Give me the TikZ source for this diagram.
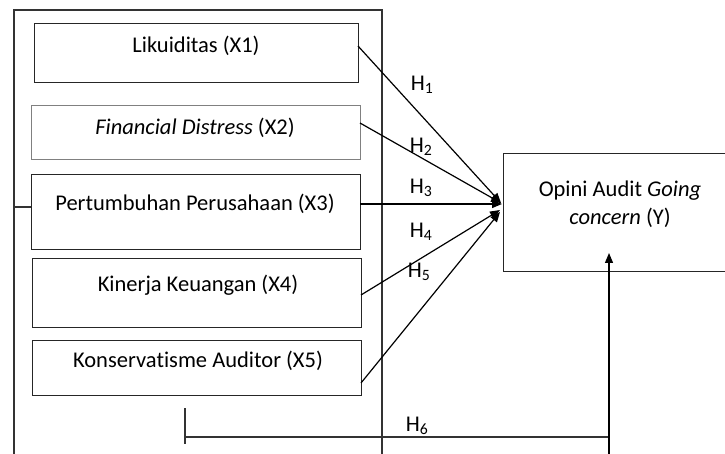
\documentclass[tikz,border=0pt]{standalone}
\usepackage{fontspec}
\setmainfont{Carlito}[Ligatures=NoCommon]
\usetikzlibrary{arrows.meta,calc}
\begin{document}
\begin{tikzpicture}[x=1pt,y=-1pt, line width=1.2pt,
  box/.style={draw=black!85, rectangle, inner sep=0pt, anchor=north west},
  lbl/.style={font=\fontsize{22.5}{28}\selectfont, inner sep=0pt},
  arr/.style={-{Triangle[length=10pt,width=8pt]}}]
\useasboundingbox (0,0) rectangle (725,454);
% outer frame
\coordinate (fbl) at (14,456);
\coordinate (ftl) at (14,10);
\coordinate (ftr) at (382,10);
\coordinate (fbr) at (382,456);
\draw[black!80] (fbl) -- (ftl) -- (ftr) -- (fbr);
% boxes
\node[box, minimum width=324pt, minimum height=59pt] (x1) at (34,23) {};
\node[box, draw=black!50, line width=1.4pt, minimum width=329pt, minimum height=54pt] (x2) at (31,105) {};
\node[box, minimum width=329pt, minimum height=75pt] (x3) at (31,174) {};
\node[box, minimum width=329pt, minimum height=69pt] (x4) at (32,258) {};
\node[box, minimum width=329pt, minimum height=55pt] (x5) at (32,340) {};
\node[box, minimum width=224pt, minimum height=118pt] (y) at (503,153) {};
% texts
\node[lbl] (t1) at (196,46) {Likuiditas (X1)};
\node[lbl] (t2) at (195,128) {\textit{Financial Distress} (X2)};
\node[lbl] (t3) at (195,204) {Pertumbuhan Perusahaan (X3)};
\node[lbl] (t4) at (198,285) {Kinerja Keuangan (X4)};
\node[lbl] (t5) at (198,361) {Konservatisme Auditor (X5)};
\node[lbl, align=center] (ty) at (620,204) {Opini Audit \textit{Going}\\\textit{concern} (Y)};
% left tick
\coordinate (lt) at (14,207);
\draw[black!80] (lt) -- (lt -| x3.west);
% arrow start points
\coordinate (s1) at (358,46);
\coordinate (s2) at (360,123);
\coordinate (s3) at (360,204);
\coordinate (s4) at (361,295);
\coordinate (s5) at (361,383);
\coordinate (e1) at (501,203);
\coordinate (e3) at (502,204);
\coordinate (e4) at (500,210);
\coordinate (e5) at (500,212);
\draw[arr] (s1) -- (e1);
\draw[arr] (s2) -- (e1);
\draw[arr] (s3) -- (e3);
\draw[arr] (s4) -- (e4);
\draw[arr] (s5) -- (e5);
% H labels
\node[lbl] (h1) at (422,85) {H\textsubscript{1}};
\node[lbl] (h2) at (421,147) {H\textsubscript{2}};
\node[lbl] (h3) at (421,188) {H\textsubscript{3}};
\node[lbl] (h4) at (421,232) {H\textsubscript{4}};
\node[lbl] (h5) at (419,272) {H\textsubscript{5}};
\node[lbl] (h6) at (417,426) {H\textsubscript{6}};
% H6 path
\coordinate (k1) at (185,408);
\coordinate (k2) at (185,444);
\coordinate (m1) at (185,437);
\coordinate (m2) at (609,437);
\coordinate (vb) at (609,456);
\coordinate (vt) at (609,253);
\draw[black!80] (k1) -- (k2);
\draw[black!80] (m1) -- (m2);
\draw[arr] (vb) -- (vt);
\end{tikzpicture}
\end{document}
